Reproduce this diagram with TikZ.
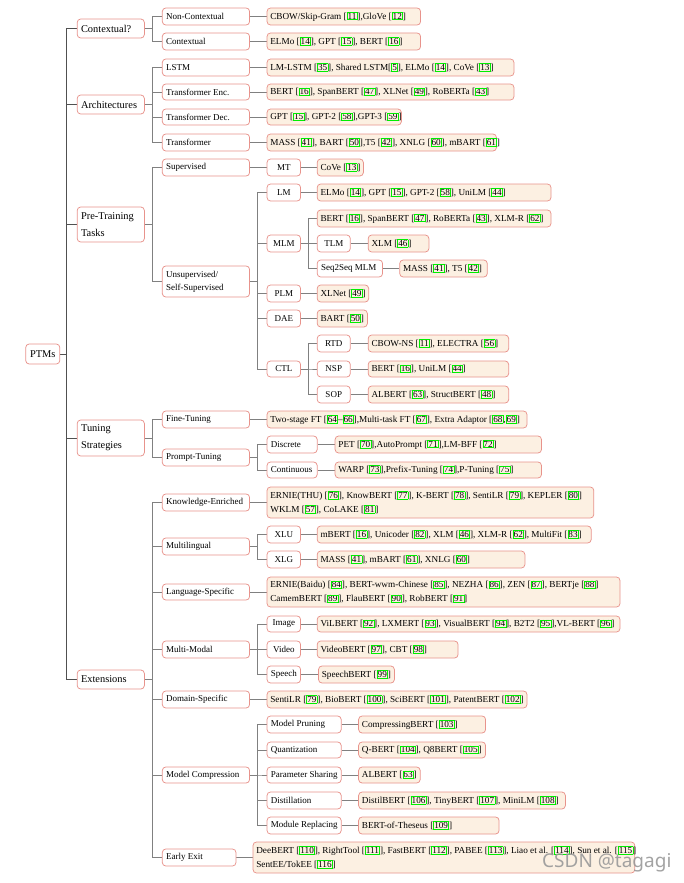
\documentclass[tikz,border=0pt]{standalone}
\usepackage{fontspec}
\setmainfont{Liberation Serif}
\newfontfamily\wmfont{Noto Sans}
\usetikzlibrary{backgrounds}
\definecolor{bd}{HTML}{E8938C}
\definecolor{lf}{HTML}{FCF0E2}
\definecolor{cg}{HTML}{808080}
\definecolor{tk}{HTML}{505050}
\definecolor{citeg}{HTML}{00EE00}
\newcommand\gb[1]{{\setlength\fboxsep{0.4pt}\setlength\fboxrule{0.55pt}\textcolor{citeg}{\fbox{\textcolor{black}{#1}}}}}
\newcommand\ct[1]{[\gb{#1}]}
% name, boxstyle, textstyle, l, t, r, b, text
\newcommand\bx[8]{%
  \pgfmathsetmacro\bxw{#6-#4}\pgfmathsetmacro\bxh{#7-#5}%
  \node[#2, minimum width=\bxw pt, minimum height=\bxh pt] (#1) at ({(#4+#6)/2},{(#5+#7)/2}) {};
  \node[#3, anchor=west] (#1-t) at (#1.west) {#8};}
\newcommand\bc[8]{%
  \pgfmathsetmacro\bxw{#6-#4}\pgfmathsetmacro\bxh{#7-#5}%
  \node[#2, minimum width=\bxw pt, minimum height=\bxh pt] (#1) at ({(#4+#6)/2},{(#5+#7)/2}) {};
  \node[#3, anchor=center] (#1-t) at (#1.center) {#8};}
\tikzset{
  ib/.style={draw=bd, fill=white, rounded corners=3.5pt, line width=0.75pt, inner sep=0pt},
  lb/.style={ib, fill=lf},
  t1/.style={font=\fontsize{10.4}{16.7}\selectfont, align=left, inner xsep=4pt, inner ysep=0pt},
  t2/.style={font=\fontsize{9}{13.3}\selectfont, align=left, inner xsep=4pt, inner ysep=0pt},
  t3/.style={font=\fontsize{9.2}{14}\selectfont, align=left, inner xsep=3.5pt, inner ysep=0pt},
  conn/.style={draw=cg, line width=0.7pt},
  trunk/.style={draw=tk, line width=0.8pt},
}
\begin{document}
\begin{tikzpicture}[x=1pt,y=-1pt]
\useasboundingbox (0,0) rectangle (684,883);
% root
\bc{ptms}{ib}{t1}{25.7}{344}{59.8}{364}{PTMs}
% level 1
\bx{ctx}{ib}{t1}{77.2}{19}{144.4}{38}{Contextual?}
\bx{arch}{ib}{t1}{77.2}{95}{144.4}{114}{Architectures}
\bx{ptt}{ib}{t1}{77.2}{207}{144.4}{242}{Pre-Training\\Tasks}
\bx{tun}{ib}{t1}{77.2}{420}{144.4}{456}{Tuning\\Strategies}
\bx{ext}{ib}{t1}{77.2}{670}{144.4}{689}{Extensions}
% level 2
\bx{nonctx}{ib}{t2}{162.3}{8}{249.6}{25}{Non-Contextual}
\bx{ctxl}{ib}{t2}{162.3}{33}{249.6}{50}{Contextual}
\bx{lstm}{ib}{t2}{162.3}{59}{249.6}{76}{LSTM}
\bx{tenc}{ib}{t2}{162.3}{84}{249.6}{100}{Transformer Enc.}
\bx{tdec}{ib}{t2}{162.3}{109}{249.6}{125}{Transformer Dec.}
\bx{tfm}{ib}{t2}{162.3}{134}{249.6}{151}{Transformer}
\bx{sup}{ib}{t2}{162.3}{159}{249.6}{176}{Supervised}
\bx{unsup}{ib}{t2}{162.3}{266}{249.6}{297}{Unsupervised/\\Self-Supervised}
\bx{ft}{ib}{t2}{162.3}{411}{249.6}{428}{Fine-Tuning}
\bx{pt}{ib}{t2}{162.3}{449}{249.6}{466}{Prompt-Tuning}
\bx{ke}{ib}{t2}{162.3}{494}{249.6}{511}{Knowledge-Enriched}
\bx{ml}{ib}{t2}{162.3}{538}{249.6}{555}{Multilingual}
\bx{ls}{ib}{t2}{162.3}{584}{249.6}{600}{Language-Specific}
\bx{mm}{ib}{t2}{162.3}{641}{249.6}{658}{Multi-Modal}
\bx{ds}{ib}{t2}{162.3}{691}{249.6}{708}{Domain-Specific}
\bx{mc}{ib}{t2}{162.3}{767}{249.6}{783}{Model Compression}
\bx{ee}{ib}{t2}{162.3}{849}{236}{866}{Early Exit}
% leaves of level 2
\bx{nonctx-l}{lb}{t3}{267}{8}{420.6}{25}{CBOW/Skip-Gram \ct{11},GloVe \ct{12}}
\bx{ctxl-l}{lb}{t3}{267}{33}{420.6}{50}{ELMo \ct{14}, GPT \ct{15}, BERT \ct{16}}
\bx{lstm-l}{lb}{t3}{267}{59}{514}{76}{LM-LSTM \ct{35}, Shared LSTM\ct{5}, ELMo \ct{14}, CoVe \ct{13}}
\bx{tenc-l}{lb}{t3}{267}{84}{514}{100}{BERT \ct{16}, SpanBERT \ct{47}, XLNet \ct{49}, RoBERTa \ct{43}}
\bx{tdec-l}{lb}{t3}{267}{109}{401.4}{125}{GPT \ct{15}, GPT-2 \ct{58},GPT-3 \ct{59}}
\bx{tfm-l}{lb}{t3}{267}{134}{496.5}{151}{MASS \ct{41}, BART \ct{50},T5 \ct{42}, XNLG \ct{60}, mBART \ct{61}}
\bx{ft-l}{lb}{t3}{267}{411}{527}{428}{Two-stage FT [\gb{64}--\gb{66}],Multi-task FT \ct{67}, Extra Adaptor [\gb{68},\gb{69}]}
\bx{ke-l}{lb}{t3}{267}{487}{593.8}{518}{ERNIE(THU) \ct{76}, KnowBERT \ct{77}, K-BERT \ct{78}, SentiLR \ct{79}, KEPLER \ct{80}\\WKLM \ct{57}, CoLAKE \ct{81}}
\bx{ls-l}{lb}{t3}{267}{577}{620}{607}{ERNIE(Baidu) \ct{84}, BERT-wwm-Chinese \ct{85}, NEZHA \ct{86}, ZEN \ct{87}, BERTje \ct{88}\\CamemBERT \ct{89}, FlauBERT \ct{90}, RobBERT \ct{91}}
\bx{ds-l}{lb}{t3}{267}{691}{527}{708}{SentiLR \ct{79}, BioBERT \ct{100}, SciBERT \ct{101}, PatentBERT \ct{102}}
\bx{ee-l}{lb}{t3}{253}{842}{634.8}{873}{DeeBERT \ct{110}, RightTool \ct{111}, FastBERT \ct{112}, PABEE \ct{113}, Liao et al. \ct{114}, Sun et al. \ct{115}\\SentEE/TokEE \ct{116}}
% level 3 and deeper
\bc{mt}{ib}{t2}{267}{159}{300.6}{176}{MT}
\bx{mt-l}{lb}{t3}{317.2}{159}{363.4}{176}{CoVe \ct{13}}
\bc{lm}{ib}{t2}{267}{184}{300.6}{201}{LM}
\bx{lm-l}{lb}{t3}{317.2}{184}{551}{201}{ELMo \ct{14}, GPT \ct{15}, GPT-2 \ct{58}, UniLM \ct{44}}
\bc{mlm}{ib}{t2}{267}{235}{300.6}{252}{MLM}
\bx{mlm-l}{lb}{t3}{317.2}{210}{551}{227}{BERT \ct{16}, SpanBERT \ct{47}, RoBERTa \ct{43}, XLM-R \ct{62}}
\bc{tlm}{ib}{t2}{317.2}{235}{350.3}{252}{TLM}
\bx{tlm-l}{lb}{t3}{368.2}{235}{428.9}{252}{XLM \ct{46}}
\bx{s2s}{ib}{t2}{317.2}{260}{382.6}{277}{Seq2Seq MLM}
\bx{s2s-l}{lb}{t3}{399.7}{260}{487.3}{277}{MASS \ct{41}, T5 \ct{42}}
\bc{plm}{ib}{t2}{267}{285}{300.6}{302}{PLM}
\bx{plm-l}{lb}{t3}{317.2}{285}{368.7}{302}{XLNet \ct{49}}
\bc{dae}{ib}{t2}{267}{310}{300.6}{327}{DAE}
\bx{dae-l}{lb}{t3}{317.2}{310}{367.4}{327}{BART \ct{50}}
\bc{ctl}{ib}{t2}{267}{361}{300.6}{377}{CTL}
\bc{rtd}{ib}{t2}{317.2}{335}{350.3}{352}{RTD}
\bx{rtd-l}{lb}{t3}{368.2}{335}{508.7}{352}{CBOW-NS \ct{11}, ELECTRA \ct{56}}
\bc{nsp}{ib}{t2}{317.2}{361}{350.3}{377}{NSP}
\bx{nsp-l}{lb}{t3}{368.2}{361}{508.7}{377}{BERT \ct{16}, UniLM \ct{44}}
\bc{sop}{ib}{t2}{317.2}{386}{350.3}{403}{SOP}
\bx{sop-l}{lb}{t3}{368.2}{386}{508.7}{403}{ALBERT \ct{63}, StructBERT \ct{48}}
\bx{disc}{ib}{t2}{267}{436}{317.2}{453}{Discrete}
\bx{disc-l}{lb}{t3}{335.1}{436}{541.5}{453}{PET \ct{70},AutoPrompt \ct{71},LM-BFF \ct{72}}
\bx{cont}{ib}{t2}{267}{462}{317.2}{478}{Continuous}
\bx{cont-l}{lb}{t3}{335.1}{462}{541.5}{478}{WARP \ct{73},Prefix-Tuning \ct{74},P-Tuning \ct{75}}
\bc{xlu}{ib}{t2}{267}{526}{300.6}{543}{XLU}
\bx{xlu-l}{lb}{t3}{317.2}{526}{591.2}{543}{mBERT \ct{16}, Unicoder \ct{82}, XLM \ct{46}, XLM-R \ct{62}, MultiFit \ct{83}}
\bc{xlg}{ib}{t2}{267}{551}{300.6}{568}{XLG}
\bx{xlg-l}{lb}{t3}{317.2}{551}{524.9}{568}{MASS \ct{41}, mBART \ct{61}, XNLG \ct{60}}
\bc{img}{ib}{t2}{267}{616}{300.6}{632}{Image}
\bx{img-l}{lb}{t3}{317.2}{616}{620}{632}{ViLBERT \ct{92}, LXMERT \ct{93}, VisualBERT \ct{94}, B2T2 \ct{95},VL-BERT \ct{96}}
\bc{vid}{ib}{t2}{267}{641}{300.6}{658}{Video}
\bx{vid-l}{lb}{t3}{317.2}{641}{458.1}{658}{VideoBERT \ct{97}, CBT \ct{98}}
\bc{sph}{ib}{t2}{267}{666}{300.6}{683}{Speech}
\bx{sph-l}{lb}{t3}{318.5}{666}{394.4}{683}{SpeechBERT \ct{99}}
\bx{mp}{ib}{t2}{267}{716}{341.2}{733}{Model Pruning}
\bx{mp-l}{lb}{t3}{358.6}{716}{485.6}{733}{CompressingBERT \ct{103}}
\bx{qz}{ib}{t2}{267}{742}{341.2}{758}{Quantization}
\bx{qz-l}{lb}{t3}{358.6}{742}{485.6}{758}{Q-BERT \ct{104}, Q8BERT \ct{105}}
\bx{ps}{ib}{t2}{267}{767}{341.2}{783}{Parameter Sharing}
\bx{ps-l}{lb}{t3}{358.6}{767}{420.2}{783}{ALBERT \ct{63}}
\bx{dist}{ib}{t2}{267}{792}{341.2}{809}{Distillation}
\bx{dist-l}{lb}{t3}{358.6}{792}{565.4}{809}{DistilBERT \ct{106}, TinyBERT \ct{107}, MiniLM \ct{108}}
\bx{mr}{ib}{t2}{267}{817}{341.2}{834}{Module Replacing}
\bx{mr-l}{lb}{t3}{358.6}{817}{499.1}{834}{BERT-of-Theseus \ct{109}}
% watermark
\node[font=\wmfont\fontsize{19}{19}\selectfont, text=black!40, opacity=0.9, anchor=base west, inner sep=0pt] (wm) at (542,867) {CSDN @tagagi};
% connectors
\begin{pgfonlayer}{background}
\foreach \cc in {ctx,arch,ptt,tun,ext} \draw[trunk] (ptms.east) -- ++(6.5,0) |- (\cc.west);
\foreach \pp/\cl in {ctx/{nonctx,ctxl}, arch/{lstm,tenc,tdec,tfm}, ptt/{sup,unsup}, tun/{ft,pt},
  ext/{ke,ml,ls,mm,ds,mc,ee}, sup/{mt}, unsup/{lm,mlm,plm,dae,ctl}, mlm/{mlm-l,tlm,s2s},
  ctl/{rtd,nsp,sop}, pt/{disc,cont}, ml/{xlu,xlg}, mm/{img,vid,sph}, mc/{mp,qz,ps,dist,mr}}
  {\foreach \cc in \cl \draw[conn] (\pp.east) -- ++(7.5,0) |- (\cc.west);}
\foreach \nm in {nonctx,ctxl,lstm,tenc,tdec,tfm,mt,lm,tlm,s2s,plm,dae,rtd,nsp,sop,ft,disc,cont,
  ke,xlu,xlg,ls,img,vid,sph,ds,mp,qz,ps,dist,mr,ee}
  \draw[conn] (\nm.east) -- (\nm-l.west);
\end{pgfonlayer}
\end{tikzpicture}
\end{document}
